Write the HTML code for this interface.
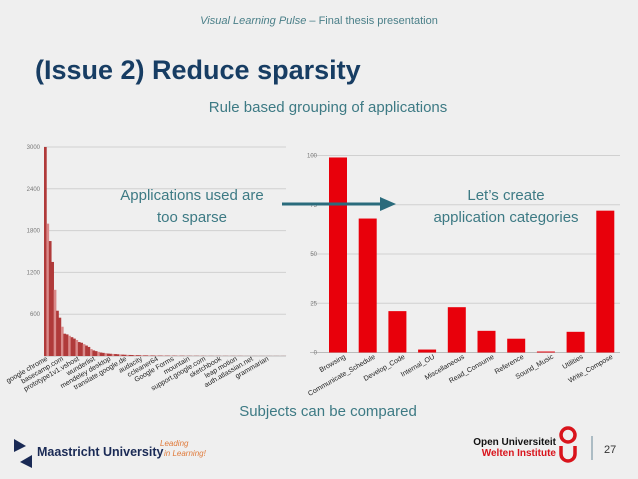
<!DOCTYPE html>
<html><head><meta charset="utf-8"><style>
html,body{margin:0;padding:0;background:#efefef;}
svg{display:block;font-family:"Liberation Sans",sans-serif;}
</style></head><body>
<svg id="s" width="638" height="479" viewBox="0 0 638 479">
<rect width="638" height="479" fill="#efefef"/>
<text x="319" y="24" text-anchor="middle" font-size="11" fill="#4a7f88"><tspan font-style="italic">Visual Learning Pulse</tspan>  – Final thesis presentation</text>
<text x="35" y="79" font-size="27" font-weight="bold" fill="#173d63">(Issue 2) Reduce sparsity</text>
<text x="328" y="112" text-anchor="middle" font-size="15" fill="#3d7a84">Rule based grouping of applications</text>
<g id="left"></g>
<g id="right"></g>
<text x="192" y="200" text-anchor="middle" font-size="15" fill="#3d7a84"><tspan x="192">Applications used are</tspan><tspan x="192" dy="22">too sparse</tspan></text>
<line x1="282" y1="204" x2="382" y2="204" stroke="#2a6b7c" stroke-width="3"/>
<polygon points="380,197 396,204 380,211" fill="#2a6b7c"/>
<text x="506" y="200" text-anchor="middle" font-size="15" fill="#3d7a84"><tspan x="506">Let’s create</tspan><tspan x="506" dy="22">application categories</tspan></text>
<text x="328" y="416" text-anchor="middle" font-size="15" fill="#3d7a84">Subjects can be compared</text>
<g>
<polygon points="14,439 26,446 14,452" fill="#1a2a55"/>
<polygon points="20,462 32,455 32,468" fill="#1a2a55"/>
<text x="37" y="456" font-size="12.5" font-weight="bold" fill="#1a2a55">Maastricht University</text>
<text x="160" y="446" font-size="8" font-style="italic" fill="#e07a3a">Leading</text>
<text x="164" y="456" font-size="8" font-style="italic" fill="#e07a3a">in Learning!</text>
</g>
<g>
<text x="556" y="445" text-anchor="end" font-size="10" font-weight="bold" fill="#111">Open Universiteit</text>
<text x="556" y="456" text-anchor="end" font-size="10" font-weight="bold" fill="#d9141c">Welten Institute</text>
<rect x="561" y="428" width="14" height="14" rx="7" fill="none" stroke="#d9141c" stroke-width="3.5"/>
<path d="M561,446 v8 a7,7 0 0 0 14,0 v-8" fill="none" stroke="#d9141c" stroke-width="3.5"/>
<line x1="592" y1="436" x2="592" y2="460" stroke="#6a8a9a" stroke-width="1"/>
<text x="604" y="453" font-size="11" fill="#333">27</text>
</g>
</svg>
<script>
var leftTicks=[0,600,1200,1800,2400,3000];
var leftTickLabels=["","600","1200","1800","2400","3000"];
var leftValues=[3000,1900,1650,1350,950,650,550,420,320,310,290,270,250,230,200,190,170,150,130,100,80,70,60,50,45,40,35,32,30,28,25,22,20,18,16,15,14,13,12,11,10,9,9,8,8,7,7,6,6,6,5,5,5,5,4,4,4,4,3,3,3,3,3,3,3,3,2,2,2,2,2,2,2,2,2,2,2,2,2,2,2,2,2,1,1,1,1,1,1,1,1,1,1,1,1,1,1,1,1,1];
var leftLabels=["google chrome","basecamp.com","prototype1v1.vshost","wunderlist","mendeley desktop","translate.google.de","audacity","ccleaner64","Google Forms","mountain","support.google.com","sketchbook","leap motion","auth.atlassian.net","grammarian"];
var rightCats=["Browsing","Communicate_Schedule","Develop_Code","Internal_OU","Miscellaneous","Read_Consume","Reference","Sound_Music","Utilities","Write_Compose"];
var rightValues=[99,68,21,1.5,23,11,7,0.5,10.5,72];
var rightTicks=[0,25,50,75,100];
var NS="http://www.w3.org/2000/svg";
function mk(p,t,a){var e=document.createElementNS(NS,t);for(var k in a)e.setAttribute(k,a[k]);p.appendChild(e);return e;}
var L=document.getElementById('left');
var lx0=44,lx1=286,ly0=356,ly1=147;
function ly(v){return ly0-(v/3000)*(ly0-ly1);}
leftTicks.forEach(function(t,i){
 var g=mk(L,'line',{x1:lx0,x2:lx1,y1:ly(t),y2:ly(t),stroke:i==0?'#bbb':'#d0d0d0','stroke-width':1});
 
 
 var tx=mk(L,'text',{x:40,y:ly(t)+2,'text-anchor':'end','font-size':6,fill:'#777'});
 tx.textContent=leftTickLabels[i];
 
 
});
var bw=(lx1-lx0)/leftValues.length;
leftValues.forEach(function(v,i){
 var r=mk(L,'rect',{x:lx0+i*bw,y:ly(v),width:bw+0.3,height:ly0-ly(v),fill:(i%3==1)?'#d98a8a':'#b03a3a'});
 
 
});
leftLabels.forEach(function(s,i){
 var x=48+i*15.8,y=360;
 var t=mk(L,'text',{x:x,y:y,'text-anchor':'end','font-size':7,fill:'#222',transform:'rotate(-30 '+x+' '+y+')'});
 t.textContent=s;
 
 
});
var R=document.getElementById('right');
var rx0=310,rx1=620,ry0=352.5,ry1=155.5;
function ry(v){return ry0-(v/100)*(ry0-ry1);}
function rxc(i){return 338+i*29.7;}
rightTicks.forEach(function(t,i){
 var g=mk(R,'line',{x1:rx0,x2:rx1,y1:ry(t),y2:ry(t),stroke:i==0?'#bbb':'#d0d0d0','stroke-width':1});
 
 
 var tx=mk(R,'text',{x:317,y:ry(t)+2,'text-anchor':'end','font-size':6,fill:'#777'});
 tx.textContent=t;
 
 
});
rightValues.forEach(function(v,i){
 var r=mk(R,'rect',{x:rxc(i)-9,y:ry(v),width:18,height:ry0-ry(v),fill:'#e8000b'});
 
 
});
rightCats.forEach(function(s,i){
 var x=rxc(i)+8,y=358;
 var t=mk(R,'text',{x:x,y:y,'text-anchor':'end','font-size':7,fill:'#222',transform:'rotate(-30 '+x+' '+y+')'});
 t.textContent=s;
 
 
});
</script>
</body></html>
